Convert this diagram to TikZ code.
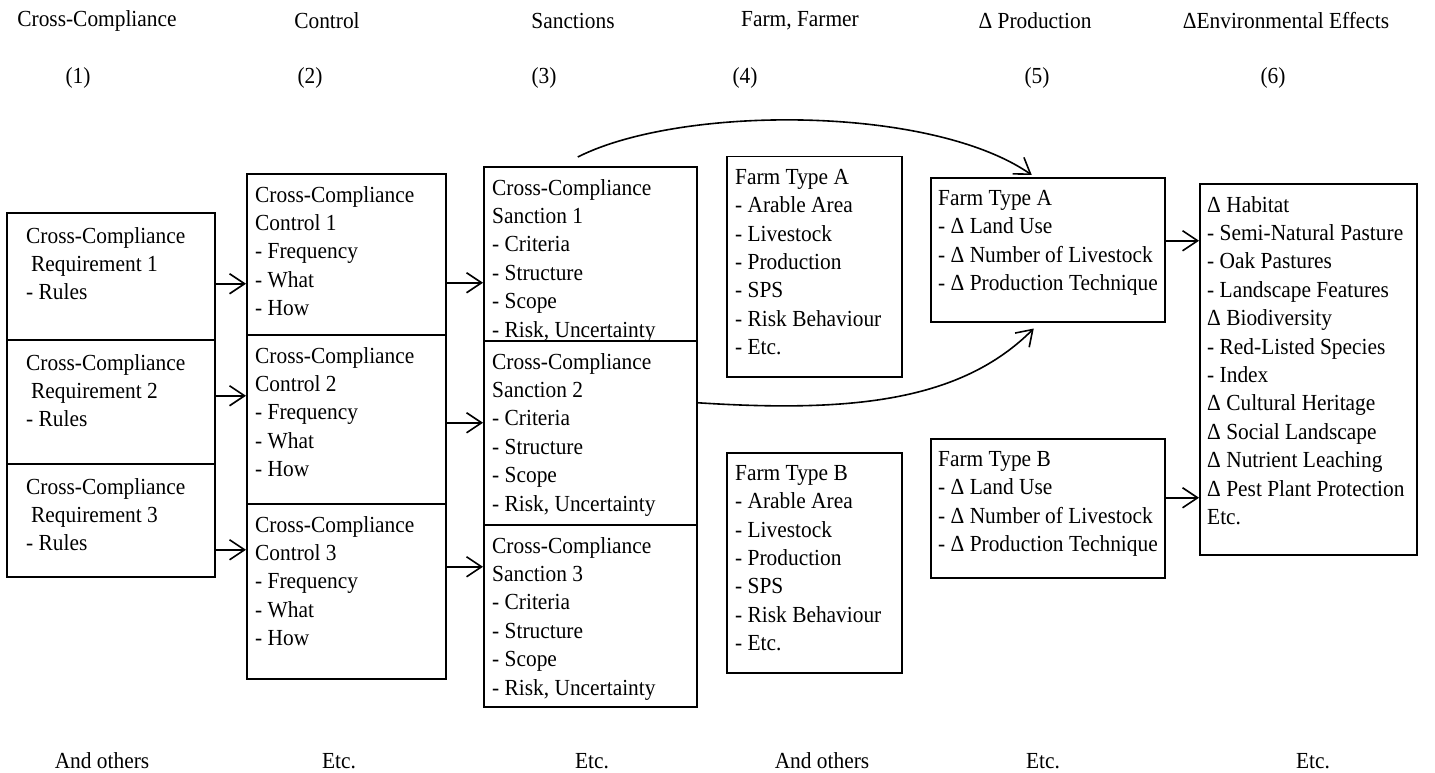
\documentclass[tikz,border=0pt]{standalone}
\usepackage{fontspec}
\setmainfont{Liberation Serif}[FakeStretch=0.93]
\usetikzlibrary{positioning,arrows.meta}

\begin{document}
\begin{tikzpicture}[x=1pt,y=-1pt,
    box/.style 2 args={draw,line width=1.5pt,inner sep=0pt,anchor=north west,minimum width=#1pt,minimum height=#2pt},
    txt/.style={inner sep=0pt,align=left,anchor=north west,font=\fontsize{23}{28.4}\selectfont},
    head/.style={inner sep=0pt,font=\fontsize{23}{28.4}\selectfont},
    arr/.style={line width=1.6pt,-{Straight Barb[length=15pt,width=20pt]}}]
    \useasboundingbox (0,0) rectangle (1435,773);

    % titres des colonnes
    \node[head] (t1) at (97,21) {Cross-Compliance};
    \node[head] (t2) at (327,21) {Control};
    \node[head] (t3) at (573,21) {Sanctions};
    \node[head] (t4) at (800,21) {Farm, Farmer};
    \node[head] (t5) at (1035,21) {Δ Production};
    \node[head] (t6) at (1286,21) {ΔEnvironmental Effects};
    \node[head] (n1) at (78,78) {(1)};
    \node[head] (n2) at (310,78) {(2)};
    \node[head] (n3) at (544,78) {(3)};
    \node[head] (n4) at (745,78) {(4)};
    \node[head] (n5) at (1037,78) {(5)};
    \node[head] (n6) at (1273,78) {(6)};

    % colonne (1)
    \node[box={208}{127}] (req1) at (6,212) {};
    \node[box={208}{124}] (req2) at (6,339) {};
    \node[box={208}{113}] (req3) at (6,463) {};
    \node[txt,below right=15pt and 20pt of req1.north west] (req1t) {Cross-Compliance\\\hspace*{5pt}Requirement 1\\- Rules};
    \node[txt,below right=15pt and 20pt of req2.north west] (req2t) {Cross-Compliance\\\hspace*{5pt}Requirement 2\\- Rules};
    \node[txt,below right=15pt and 20pt of req3.north west] (req3t) {Cross-Compliance\\\hspace*{5pt}Requirement 3\\- Rules};

    % colonne (2)
    \node[box={199}{161}] (ctl1) at (246,173) {};
    \node[box={199}{169}] (ctl2) at (246,334) {};
    \node[box={199}{175}] (ctl3) at (246,503) {};
    \node[txt,below right=13pt and 9pt of ctl1.north west] (ctl1t) {Cross-Compliance\\Control 1\\- Frequency\\- What\\- How};
    \node[txt,below right=13pt and 9pt of ctl2.north west] (ctl2t) {Cross-Compliance\\Control 2\\- Frequency\\- What\\- How};
    \node[txt,below right=13pt and 9pt of ctl3.north west] (ctl3t) {Cross-Compliance\\Control 3\\- Frequency\\- What\\- How};

    % colonne (3)
    \node[box={213}{174}] (san1) at (483,166) {};
    \node[box={213}{184}] (san2) at (483,340) {};
    \node[box={213}{182}] (san3) at (483,524) {};
    \node[txt,below right=13pt and 9pt of san1.north west] (san1t) {Cross-Compliance\\Sanction 1\\- Criteria\\- Structure\\- Scope\\- Risk, Uncertainty};
    \node[txt,below right=13pt and 9pt of san2.north west] (san2t) {Cross-Compliance\\Sanction 2\\- Criteria\\- Structure\\- Scope\\- Risk, Uncertainty};
    \node[txt,below right=13pt and 9pt of san3.north west] (san3t) {Cross-Compliance\\Sanction 3\\- Criteria\\- Structure\\- Scope\\- Risk, Uncertainty};

    % colonne (4)
    \node[box={175}{220}] (farmA) at (726,156) {};
    \node[box={175}{220}] (farmB) at (726,452) {};
    \node[txt,below right=13pt and 9pt of farmA.north west] (farmAt) {Farm Type A\\- Arable Area\\- Livestock\\- Production\\- SPS\\- Risk Behaviour\\- Etc.};
    \node[txt,below right=13pt and 9pt of farmB.north west] (farmBt) {Farm Type B\\- Arable Area\\- Livestock\\- Production\\- SPS\\- Risk Behaviour\\- Etc.};

    % colonne (5)
    \node[box={234}{144}] (prodA) at (930,177) {};
    \node[box={234}{139}] (prodB) at (930,438) {};
    \node[txt,below right=13pt and 8pt of prodA.north west] (prodAt) {Farm Type A\\- Δ Land Use\\- Δ Number of Livestock\\- Δ Production Technique};
    \node[txt,below right=13pt and 8pt of prodB.north west] (prodBt) {Farm Type B\\- Δ Land Use\\- Δ Number of Livestock\\- Δ Production Technique};

    % colonne (6)
    \node[box={217}{371}] (env) at (1199,183) {};
    \node[txt,below right=13pt and 8pt of env.north west] (envt) {Δ Habitat\\- Semi-Natural Pasture\\- Oak Pastures\\- Landscape Features\\Δ Biodiversity\\- Red-Listed Species\\- Index\\Δ Cultural Heritage\\Δ Social Landscape\\Δ Nutrient Leaching\\Δ Pest Plant Protection\\Etc.};

    % fleches
    \draw[arr] ([yshift=-7.5pt]req1.east) -- ([yshift=-29.5pt]ctl1.west);
    \draw[arr] ([yshift=6pt]req2.east) -- ([yshift=23.5pt]ctl2.west);
    \draw[arr] ([yshift=-29.5pt]req3.east) -- ([yshift=41.5pt]ctl3.west);
    \draw[arr] ([yshift=-28.5pt]ctl1.east) -- ([yshift=-29pt]san1.west);
    \draw[arr] ([yshift=-3.5pt]ctl2.east) -- ([yshift=10pt]san2.west);
    \draw[arr] ([yshift=24.5pt]ctl3.east) -- ([yshift=49pt]san3.west);
    \draw[arr] ([yshift=9pt]prodA.east) -- ([yshift=128.5pt]env.west);
    \draw[arr] ([yshift=10.5pt]prodB.east) -- ([yshift=-128.5pt]env.west);
    \draw[arr] ([shift={(-12.5pt,9pt)}]san1.north) .. controls +(103,-52) and +(-101,-70) .. ([shift={(-16pt,2pt)}]prodA.north);
    \draw[arr] ([yshift=30pt]san2.east) .. controls +(154,10) and +(-73,73) .. ([shift={(-14pt,-6pt)}]prodA.south);

    % bas de page
    \node[head] (b1) at (102,761) {And others};
    \node[head] (b2) at (339,761) {Etc.};
    \node[head] (b3) at (592,761) {Etc.};
    \node[head] (b4) at (822,761) {And others};
    \node[head] (b5) at (1043,761) {Etc.};
    \node[head] (b6) at (1313,761) {Etc.};
\end{tikzpicture}
\end{document}
